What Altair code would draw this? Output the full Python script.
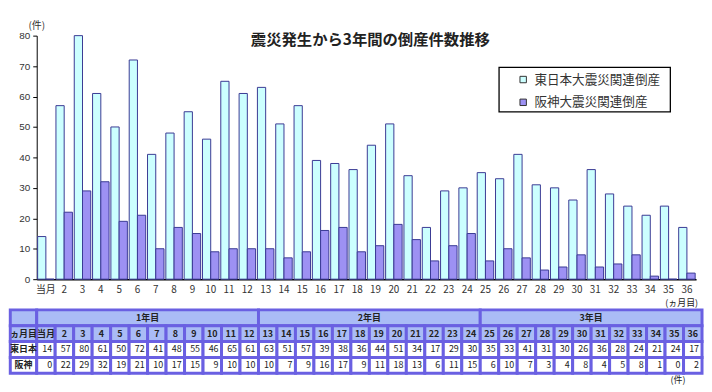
import altair as alt
import pandas as pd

# ---------------- data ----------------
months = ["当月", "2", "3", "4", "5", "6", "7", "8", "9", "10", "11", "12",
          "13", "14", "15", "16", "17", "18", "19", "20", "21", "22", "23", "24",
          "25", "26", "27", "28", "29", "30", "31", "32", "33", "34", "35", "36"]
east = [14, 57, 80, 61, 50, 72, 41, 48, 55, 46, 65, 61,
        63, 51, 57, 39, 38, 36, 44, 51, 34, 17, 29, 30,
        35, 33, 41, 31, 30, 26, 36, 28, 24, 21, 24, 17]
hanshin = [0, 22, 29, 32, 19, 21, 10, 17, 15, 9, 10, 10,
           10, 7, 9, 16, 17, 9, 11, 18, 13, 6, 11, 15,
           6, 10, 7, 3, 4, 8, 4, 5, 8, 1, 0, 2]
series_names = ["東日本大震災関連倒産", "阪神大震災関連倒産"]
row_labels = ["ヵ月目", "東日本", "阪神"]
year_labels = ["1年目", "2年目", "3年目"]
title_text = "震災発生から3年間の倒産件数推移"
y_unit = "(件)"
x_unit = "(ヵ月目)"

# ---------------- styles ----------------
FONT = "Noto Sans CJK JP"
C_EAST = "#ccffff"
C_HAN = "#9d91f3"
C_BAR_STROKE = "#3a3a94"
C_HEAD = "#aabcf6"
C_BORDER = "#6a60e2"

# ---------------- bar chart ----------------
rows = []
for i, m in enumerate(months):
    rows.append({"month": m, "series": series_names[0], "value": east[i]})
    rows.append({"month": m, "series": series_names[1], "value": hanshin[i]})
bar_df = pd.DataFrame(rows)

legend_box = alt.Chart(pd.DataFrame({"a": [0]})).mark_rect(
    fill="white", stroke="#000", strokeWidth=1.3
).encode(x=alt.value(467), x2=alt.value(640), y=alt.value(32), y2=alt.value(77))

bars = alt.Chart(bar_df).mark_bar(stroke=C_BAR_STROKE, strokeWidth=1).encode(
    x=alt.X("month:N", sort=months,
            scale=alt.Scale(paddingInner=0.1, paddingOuter=0.05),
            axis=alt.Axis(title=None, labelAngle=0, ticks=False, domainColor="#000",
                          domainWidth=1.5, labelFont=FONT, labelFontSize=10,
                          labelColor="#333", labelPadding=5)),
    xOffset=alt.XOffset("series:N", sort=series_names),
    y=alt.Y("value:Q", scale=alt.Scale(domain=[0, 80], nice=False),
            axis=alt.Axis(values=[0, 10, 20, 30, 40, 50, 60, 70, 80], grid=False,
                          tickSize=4, tickColor="#000", domainColor="#000",
                          labelFont="Liberation Sans", labelFontSize=10,
                          labelColor="#333", labelPadding=3, title=None)),
    color=alt.Color("series:N", sort=series_names,
                    scale=alt.Scale(domain=series_names, range=[C_EAST, C_HAN]),
                    legend=alt.Legend(title=None, orient="none", legendX=485, legendY=38,
                                      direction="vertical", padding=0,
                                      symbolType="square", symbolSize=42,
                                      symbolStrokeColor="#333", symbolStrokeWidth=1,
                                      labelFont=FONT, labelFontSize=12.7,
                                      labelColor="#333", rowPadding=9, labelOffset=5)),
)

title_layer = alt.Chart(pd.DataFrame({"t": [title_text]})).mark_text(
    font=FONT, fontSize=15.5, fontWeight="bold", color="#222", baseline="middle"
).encode(text="t:N", x=alt.value(337), y=alt.value(4))

unit_layer = alt.Chart(pd.DataFrame({"t": [y_unit]})).mark_text(
    font=FONT, fontSize=10, color="#333", baseline="middle", align="center"
).encode(text="t:N", x=alt.value(0), y=alt.value(-10))

bar_chart = alt.layer(legend_box, bars, title_layer, unit_layer).properties(
    width=666, height=246)

# ---------------- table ----------------
cells = []
texts_b = []
texts_n = []
texts_r = []
LX = -0.93
cells.append({"x": LX, "x2": 0.5, "y": 0, "y2": 1, "fill": C_HEAD})
for k, yl in enumerate(year_labels):
    cells.append({"x": 12 * k + 0.5, "x2": 12 * k + 12.5, "y": 0, "y2": 1, "fill": C_HEAD})
    texts_b.append({"x": 12 * k + 6.5, "y": 0.5, "text": yl})
for r, lab in enumerate(row_labels):
    cells.append({"x": LX, "x2": 0.5, "y": r + 1, "y2": r + 2,
                  "fill": C_HEAD if r == 0 else "white"})
    texts_b.append({"x": (LX + 0.5) / 2, "y": r + 1.5, "text": lab})
for i, m in enumerate(months):
    c = i + 1
    cells.append({"x": c - 0.5, "x2": c + 0.5, "y": 1, "y2": 2, "fill": C_HEAD})
    cells.append({"x": c - 0.5, "x2": c + 0.5, "y": 2, "y2": 3, "fill": "white"})
    cells.append({"x": c - 0.5, "x2": c + 0.5, "y": 3, "y2": 4, "fill": "white"})
    texts_b.append({"x": c, "y": 1.5, "text": m})
    texts_r.append({"x": c + 0.5, "y": 2.5, "text": str(east[i])})
    texts_r.append({"x": c + 0.5, "y": 3.5, "text": str(hanshin[i])})
texts_n.append({"x": 35.4, "y": -0.45, "text": x_unit})
texts_n.append({"x": 35.2, "y": 4.45, "text": y_unit})

xs = alt.Scale(domain=[0.5, 36.5], nice=False, zero=False)
ys = alt.Scale(domain=[0, 4], nice=False, zero=False, reverse=True)

cell_layer = alt.Chart(pd.DataFrame(cells)).mark_rect(
    stroke=C_BORDER, strokeWidth=3
).encode(
    x=alt.X("x:Q", scale=xs, axis=None), x2="x2:Q",
    y=alt.Y("y:Q", scale=ys, axis=None), y2="y2:Q",
    fill=alt.Fill("fill:N", scale=None),
)


def text_layer(df, weight, align, dx=0):
    return alt.Chart(pd.DataFrame(df)).mark_text(
        font=FONT, fontSize=9, color="#222", align=align, baseline="middle",
        fontWeight=weight, dx=dx
    ).encode(
        x=alt.X("x:Q", scale=xs, axis=None), y=alt.Y("y:Q", scale=ys, axis=None),
        text="text:N",
    )


table = alt.layer(
    cell_layer,
    text_layer(texts_b, "bold", "center"),
    text_layer(texts_n, "normal", "center"),
    text_layer(texts_r, "normal", "right", -3),
).properties(width=672, height=64)

chart = alt.vconcat(bar_chart, table, spacing=31, bounds="flush").configure_view(
    stroke=None
).properties(padding={"left": 0, "top": 11, "right": 0, "bottom": 0})

chart.save("out.html", embed_options={"renderer": "svg", "actions": False})
